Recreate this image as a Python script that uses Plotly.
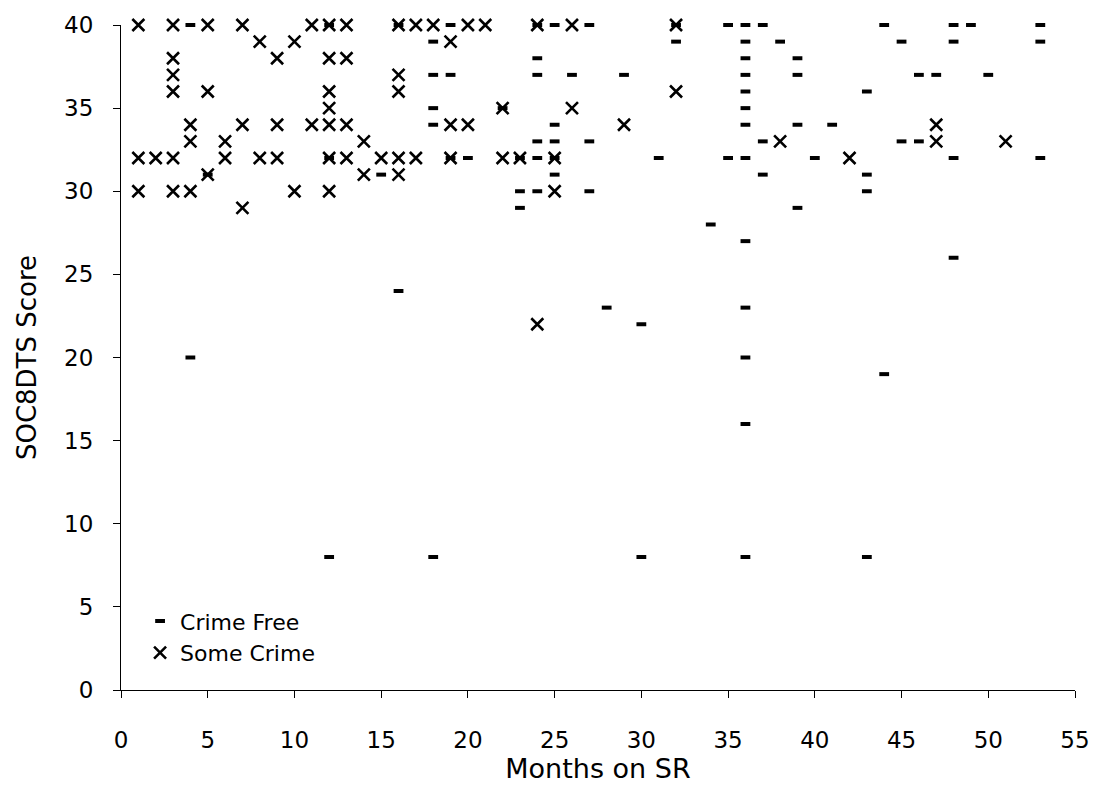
import plotly.graph_objects as go

# Crime Free (dash markers): months on SR and SOC8DTS score
cf_months = [4, 12, 16, 19, 24, 25, 27, 32, 35, 36, 37, 44, 48, 49, 53,
             18, 32, 36, 38, 45, 48, 53,
             24, 36, 39,
             18, 19, 24, 26, 29, 36, 39, 46, 47, 50,
             36, 43,
             18, 22, 36,
             18, 25, 36, 39, 41,
             24, 25, 27, 37, 45, 46,
             12, 19, 20, 23, 24, 25, 31, 35, 36, 40, 48, 53,
             5, 15, 25, 37, 43,
             23, 24, 27, 43,
             23, 39,
             34, 36, 48, 16,
             28, 36, 30, 4, 36, 44, 36,
             12, 18, 30, 36, 43]
cf_scores = [40, 40, 40, 40, 40, 40, 40, 40, 40, 40, 40, 40, 40, 40, 40,
             39, 39, 39, 39, 39, 39, 39,
             38, 38, 38,
             37, 37, 37, 37, 37, 37, 37, 37, 37, 37,
             36, 36,
             35, 35, 35,
             34, 34, 34, 34, 34,
             33, 33, 33, 33, 33, 33,
             32, 32, 32, 32, 32, 32, 32, 32, 32, 32, 32, 32,
             31, 31, 31, 31, 31,
             30, 30, 30, 30,
             29, 29,
             28, 27, 26, 24,
             23, 23, 22, 20, 20, 19, 16,
             8, 8, 8, 8, 8]

# Some Crime (x markers)
sc_months = [1, 3, 5, 7, 11, 12, 13, 16, 17, 18, 20, 21, 24, 26, 32,
             8, 10, 19,
             3, 9, 12, 13,
             3, 16,
             3, 5, 12, 16, 32,
             12, 22, 26,
             4, 7, 9, 11, 12, 13, 19, 20, 29, 47,
             4, 6, 14, 38, 47, 51,
             1, 2, 3, 6, 8, 9, 12, 13, 15, 16, 17, 19, 22, 23, 25, 42,
             5, 14, 16,
             1, 3, 4, 10, 12, 25,
             7,
             24]
sc_scores = [40, 40, 40, 40, 40, 40, 40, 40, 40, 40, 40, 40, 40, 40, 40,
             39, 39, 39,
             38, 38, 38, 38,
             37, 37,
             36, 36, 36, 36, 36,
             35, 35, 35,
             34, 34, 34, 34, 34, 34, 34, 34, 34, 34,
             33, 33, 33, 33, 33, 33,
             32, 32, 32, 32, 32, 32, 32, 32, 32, 32, 32, 32, 32, 32, 32, 32,
             31, 31, 31,
             30, 30, 30, 30, 30, 30,
             29,
             22]

x_ticks = [0, 5, 10, 15, 20, 25, 30, 35, 40, 45, 50, 55]
y_ticks = [0, 5, 10, 15, 20, 25, 30, 35, 40]

FONT = "DejaVu Sans"

fig = go.Figure()
fig.add_trace(go.Scatter(
    x=cf_months, y=cf_scores, mode="markers", name="Crime Free",
    marker=dict(symbol="line-ew", size=7, color="black",
                line=dict(color="black", width=4)),
    cliponaxis=False,
))
fig.add_trace(go.Scatter(
    x=sc_months, y=sc_scores, mode="markers", name="Some Crime",
    marker=dict(symbol="x-thin", size=12, color="black",
                line=dict(color="black", width=2.6)),
    cliponaxis=False,
))

fig.update_layout(
    width=1102, height=787,
    margin=dict(l=121, r=20, t=22, b=85),
    paper_bgcolor="white", plot_bgcolor="white",
    font=dict(family=FONT, size=23, color="black"),
    showlegend=True,
    legend=dict(x=0.02, y=0.135, xanchor="left", yanchor="top",
                bgcolor="rgba(0,0,0,0)", itemwidth=30,
                font=dict(family=FONT, size=22, color="black"),
                tracegroupgap=0),
)
fig.update_xaxes(
    range=[0, 55], tickvals=x_ticks, ticktext=[str(v) for v in x_ticks],
    showline=True, linecolor="black", linewidth=1, mirror=False,
    ticks="outside", ticklen=7, tickcolor="black", tickwidth=1,
    showgrid=False, zeroline=False, ticklabelstandoff=22,
    tickfont=dict(family=FONT, size=23, color="black"),
    title=dict(text="Months on SR", standoff=4,
               font=dict(family=FONT, size=27, color="black")),
)
fig.update_yaxes(
    range=[0, 40], tickvals=y_ticks, ticktext=[str(v) for v in y_ticks],
    showline=True, linecolor="black", linewidth=1, mirror=False,
    ticks="outside", ticklen=7, tickcolor="black", tickwidth=1,
    showgrid=False, zeroline=False, ticklabelstandoff=15,
    tickfont=dict(family=FONT, size=23, color="black"),
    title=dict(text="SOC8DTS Score", standoff=20,
               font=dict(family=FONT, size=26, color="black")),
)

fig.write_html("out.html")
